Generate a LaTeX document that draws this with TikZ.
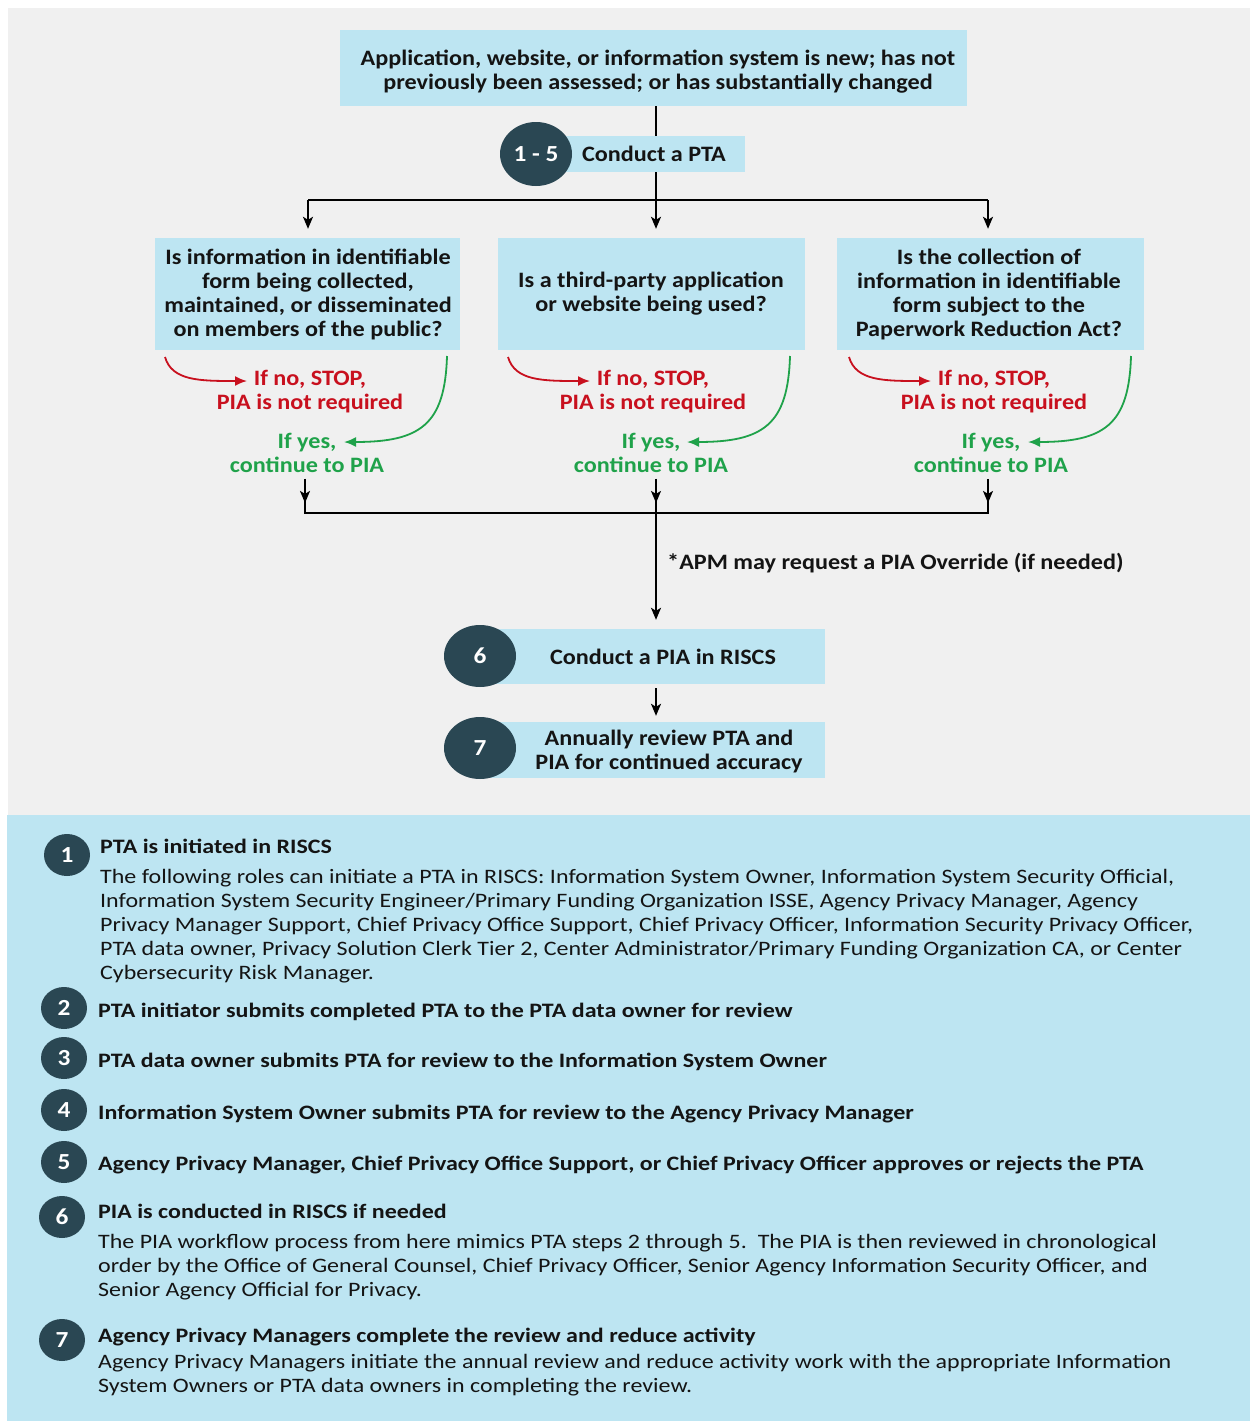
\documentclass[tikz,border=0pt]{standalone}
\usepackage{fontspec}
\setmainfont{Carlito}[FakeStretch=1.17]
\newfontfamily\flowfont{Carlito}[FakeStretch=1.1]
\usetikzlibrary{arrows.meta,shapes.geometric}
\definecolor{bggrey}{HTML}{F0F0F0}
\definecolor{pblue}{HTML}{BDE5F2}
\definecolor{darkbadge}{HTML}{2A4753}
\definecolor{nored}{HTML}{C8101E}
\definecolor{yesgreen}{HTML}{1FA24A}
\definecolor{txt}{HTML}{141414}
\pgfdeclarelayer{back}
\pgfdeclarelayer{lines}
\pgfsetlayers{back,lines,main}
\begin{document}
\begin{tikzpicture}[x=1pt,y=-1pt,
  boxrect/.style={fill=pblue, inner sep=0pt},
  boxtxt/.style={inner sep=0pt, align=center, text=txt, font=\flowfont\bfseries\fontsize{22}{24}\selectfont},
  badge/.style={ellipse, fill=darkbadge, text=white, inner sep=0pt, minimum width=72pt, minimum height=64pt, font=\flowfont\bfseries\fontsize{23}{24}\selectfont},
  lbadge/.style={ellipse, fill=darkbadge, text=white, inner sep=0pt, minimum width=46pt, minimum height=42pt, font=\flowfont\bfseries\fontsize{23}{24}\selectfont},
  notxt/.style={inner sep=0pt, align=center, text=nored, font=\flowfont\bfseries\fontsize{22}{24}\selectfont},
  yestxt/.style={inner sep=0pt, align=center, text=yesgreen, font=\flowfont\bfseries\fontsize{22}{24}\selectfont},
  itemtxt/.style={inner sep=0pt, anchor=north west, align=left, text=txt, font=\fontsize{20.5}{24}\selectfont},
  flow/.style={line width=1.8pt, black},
  arr/.style={flow, -{Stealth[length=12pt,width=10pt,inset=3pt]}},
  noarr/.style={line width=1.8pt, nored, -{Latex[length=12pt,width=10pt]}},
  yesarr/.style={line width=1.8pt, yesgreen, -{Latex[length=12pt,width=10pt]}},
]
\useasboundingbox (0,0) rectangle (1250,1427);
\begin{pgfonlayer}{back}
\fill[white] (0,0) rectangle (1250,1427);
\fill[bggrey] (8,8) rectangle (1250,815);
\fill[pblue] (7,815) rectangle (1250,1421);
\end{pgfonlayer}

% ---------- flow chart ----------
\node[boxrect, minimum width=627pt, minimum height=76pt] (top) at (653.5,68) {};
\node[boxtxt] (toptxt) at (658,72) {Application, website, or information system is new; has not\\previously been assessed; or has substantially changed};

\node[boxrect, minimum width=205pt, minimum height=36pt] (pta) at (642.5,154) {};
\node[badge] (b15) at (536,154) {1 - 5};
\node[boxtxt] (ptatxt) at (654,154) {Conduct a PTA};

\coordinate (sp) at (656,200);
\coordinate (spl) at (308,200);
\coordinate (spr) at (988,200);

\node[boxrect, minimum width=305pt, minimum height=112pt] (q1) at (307.5,294) {};
\node[boxrect, minimum width=307pt, minimum height=112pt] (q2) at (651.5,294) {};
\node[boxrect, minimum width=307pt, minimum height=112pt] (q3) at (990.5,294) {};
\node[boxtxt] (q1t) at (308,294) {Is information in identifiable\\form being collected,\\maintained, or disseminated\\on members of the public?};
\node[boxtxt] (q2t) at (651,294) {Is a third-party application\\or website being used?};
\node[boxtxt] (q3t) at (989,294) {Is the collection of\\information in identifiable\\form subject to the\\Paperwork Reduction Act?};

\node[notxt] (no1) at (310,392) {If no, STOP,\\PIA is not required};
\node[notxt] (no2) at (653,392) {If no, STOP,\\PIA is not required};
\node[notxt] (no3) at (994,392) {If no, STOP,\\PIA is not required};
\node[yestxt] (yes1) at (307,453) {If yes,\\continue to PIA};
\node[yestxt] (yes2) at (651,453) {If yes,\\continue to PIA};
\node[yestxt] (yes3) at (991,453) {If yes,\\continue to PIA};

\coordinate (r1s) at (165,357); \coordinate (r1e) at (247,381);
\coordinate (r2s) at (508,357); \coordinate (r2e) at (590,381);
\coordinate (r3s) at (849,357); \coordinate (r3e) at (931,381);
\coordinate (g1s) at (447,356); \coordinate (g1e) at (344,442);
\coordinate (g2s) at (790,356); \coordinate (g2e) at (687,442);
\coordinate (g3s) at (1131,356); \coordinate (g3e) at (1028,442);

\coordinate (m1) at (305,513);
\coordinate (m2) at (656,513);
\coordinate (m3) at (988,513);

\node[inner sep=0pt, anchor=west, text=txt, font=\flowfont\bfseries\fontsize{22}{24}\selectfont] (apm) at (667,563) {*APM may request a PIA Override (if needed)};

\node[boxrect, minimum width=345pt, minimum height=55pt] (s6) at (652.5,656.5) {};
\node[badge, minimum width=72pt, minimum height=62pt] (b6) at (480,656) {6};
\node[boxtxt] (s6t) at (663,657) {Conduct a PIA in RISCS};

\node[boxrect, minimum width=345pt, minimum height=56pt] (s7) at (652.5,750) {};
\node[badge, minimum width=72pt, minimum height=62pt] (b7) at (480,748) {7};
\node[boxtxt] (s7t) at (669,752) {Annually review PTA and\\PIA for continued accuracy};

\begin{pgfonlayer}{lines}
\draw[flow] (top.south -| sp) -- (sp);
\draw[flow] (spl) -- (spr);
\draw[arr, shorten >=9pt] (spl) -- (spl |- q1.north);
\draw[arr, shorten >=9pt] (sp) -- (sp |- q2.north);
\draw[arr, shorten >=9pt] (spr) -- (spr |- q3.north);

\draw[noarr] (r1s) .. controls (172,381) and (200,381) .. (r1e);
\draw[noarr] (r2s) .. controls (515,381) and (543,381) .. (r2e);
\draw[noarr] (r3s) .. controls (856,381) and (884,381) .. (r3e);
\draw[yesarr] (g1s) .. controls (445,425) and (420,442) .. (g1e);
\draw[yesarr] (g2s) .. controls (788,425) and (763,442) .. (g2e);
\draw[yesarr] (g3s) .. controls (1129,425) and (1104,442) .. (g3e);

\draw[flow] ([yshift=-6pt]yes1.south -| m1) -- (m1) -- (m3) -- ([yshift=-6pt]yes3.south -| m3);
\draw[arr] ([yshift=-6pt]yes1.south -| m1) -- ([yshift=-30pt]yes1.south -| m1);
\draw[arr] ([yshift=-6pt]yes3.south -| m3) -- ([yshift=-30pt]yes3.south -| m3);
\draw[arr] ([yshift=-6pt]yes2.south -| m2) -- ([yshift=-30pt]yes2.south -| m2);
\draw[arr, shorten >=9pt] ([yshift=-6pt]yes2.south -| m2) -- (s6.north -| m2);
\draw[arr] ([yshift=-4pt]s6.south -| m2) -- ([yshift=6pt]s7.north -| m2);
\end{pgfonlayer}

% ---------- legend ----------
\node[lbadge] (l1) at (67,855) {1};
\node[lbadge] (l2) at (64,1008) {2};
\node[lbadge] (l3) at (64,1058) {3};
\node[lbadge] (l4) at (64,1110) {4};
\node[lbadge] (l5) at (64,1162) {5};
\node[lbadge] (l6) at (62,1217) {6};
\node[lbadge] (l7) at (62,1340) {7};

\node[itemtxt] (t1) at (100,839) {\textbf{PTA is initiated in RISCS}\\[6pt]The following roles can initiate a PTA in RISCS: Information System Owner, Information System Security Official,\\Information System Security Engineer/Primary Funding Organization ISSE, Agency Privacy Manager, Agency\\Privacy Manager Support, Chief Privacy Office Support, Chief Privacy Officer, Information Security Privacy Officer,\\PTA data owner, Privacy Solution Clerk Tier 2, Center Administrator/Primary Funding Organization CA, or Center\\Cybersecurity Risk Manager.};
\node[itemtxt] (t2) at (98,1003) {\textbf{PTA initiator submits completed PTA to the PTA data owner for review}};
\node[itemtxt] (t3) at (98,1053) {\textbf{PTA data owner submits PTA for review to the Information System Owner}};
\node[itemtxt] (t4) at (98,1105) {\textbf{Information System Owner submits PTA for review to the Agency Privacy Manager}};
\node[itemtxt] (t5) at (98,1156) {\textbf{Agency Privacy Manager, Chief Privacy Office Support, or Chief Privacy Officer approves or rejects the PTA}};
\node[itemtxt] (t6) at (98,1204) {\textbf{PIA is conducted in RISCS if needed}\\[6pt]The PIA workflow process from here mimics PTA steps 2 through 5.\ \ The PIA is then reviewed in chronological\\order by the Office of General Counsel, Chief Privacy Officer, Senior Agency Information Security Officer, and\\Senior Agency Official for Privacy.};
\node[itemtxt] (t7) at (98,1328) {\textbf{Agency Privacy Managers complete the review and reduce activity}\\[2pt]Agency Privacy Managers initiate the annual review and reduce activity work with the appropriate Information\\System Owners or PTA data owners in completing the review.};
\end{tikzpicture}
\end{document}
